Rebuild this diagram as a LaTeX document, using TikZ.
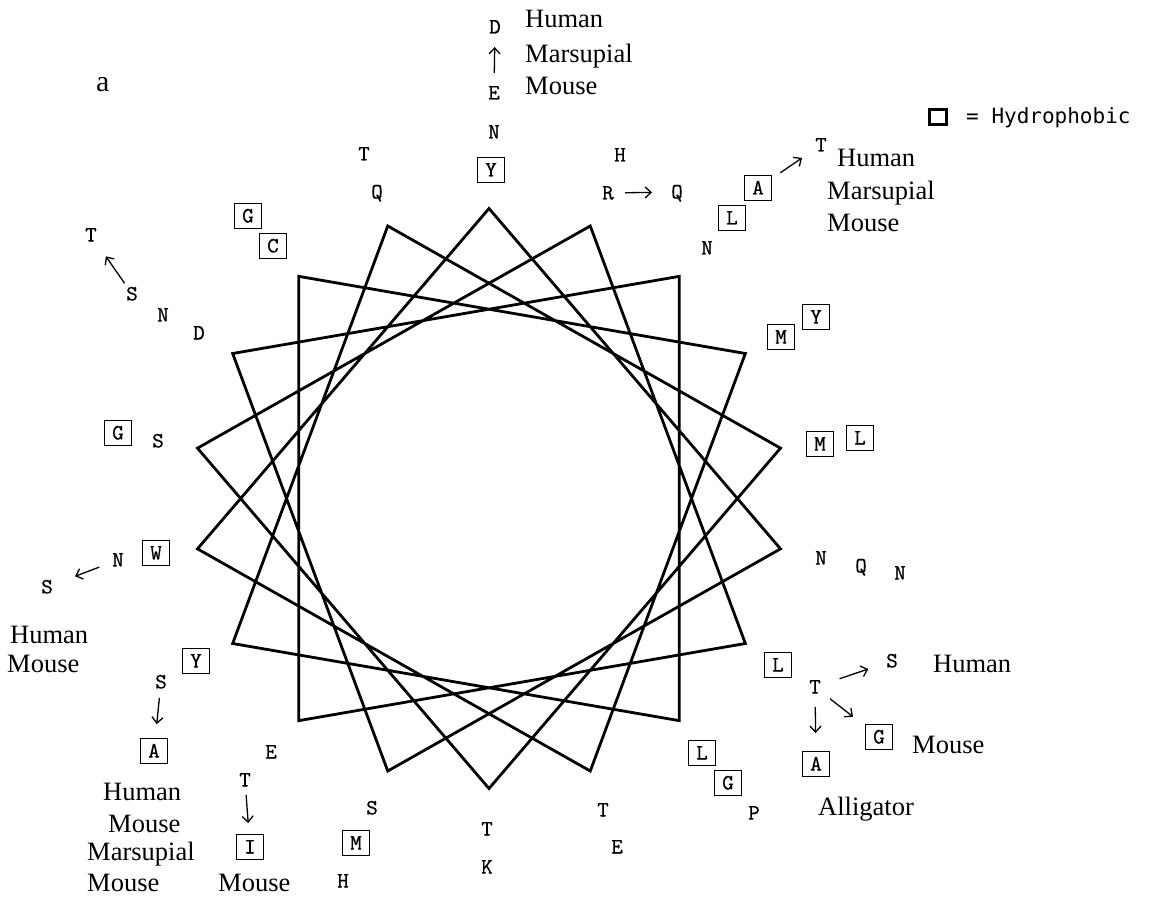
\documentclass[tikz,border=0pt]{standalone}
\usepackage{fontspec}
\setmainfont{Liberation Serif}
\newfontfamily\legendfont{DejaVu Sans Mono}
\newfontfamily\resfont{lmmono10-regular.otf}[FakeBold=0.5]
\usetikzlibrary{arrows.meta}
\begin{document}
\begin{tikzpicture}[x=1pt,y=-1pt,
  res/.style={font=\resfont\fontsize{22}{22}\selectfont, inner sep=0pt, text height=13pt, text depth=0pt, anchor=center},
  hyd/.style={res, draw, line width=1.8pt, minimum width=27pt, minimum height=25pt},
  spec/.style={font=\fontsize{26.5}{26.5}\selectfont, inner sep=0pt, anchor=base west},
  arr/.style={-{Straight Barb[length=6pt,width=11pt]}, line width=1.3pt},
  wheel/.style={line width=2.8pt, line join=miter}]
\useasboundingbox (0,0) rectangle (1155,901);
% helical wheel
\foreach \k in {0,...,17} {
  \coordinate (v\k) at ({489+296*cos(90+100*\k)}, {498.5-290*sin(90+100*\k)});
}
\draw[wheel] (v0) \foreach \k in {1,...,17} {-- (v\k)} -- cycle;
% label a
\node[font=\fontsize{30}{30}\selectfont, inner sep=0pt, anchor=base west] (lbla) at (96,92) {a};
% legend
\node[draw, line width=3.2pt, minimum width=17pt, minimum height=15pt, inner sep=0pt] (lgbox) at (938,117) {};
\node[font=\legendfont\fontsize{21}{21}\selectfont, inner sep=0pt, anchor=west] (lgtext) at (966,118) {= Hydrophobic};
% top
\node[res] (d1) at (495,27) {D};
\node[res] (e1) at (494,93) {E};
\node[res] (n1) at (494,132) {N};
\node[hyd] (y1) at (491,170) {Y};
\node[spec] (sp1a) at (525,28) {Human};
\node[spec] (sp1b) at (525,63) {Marsupial};
\node[spec] (sp1c) at (525,95) {Mouse};
\draw[arr, shorten <=20pt, shorten >=20pt] (e1.center) -- (d1.center);
% upper left
\node[res] (t2) at (364,154) {T};
\node[res] (q2) at (377,192) {Q};
\node[hyd] (g3) at (248,216) {G};
\node[hyd] (c3) at (273,246) {C};
\node[res] (t4) at (91,235) {T};
\node[res] (s4) at (132,294) {S};
\node[res] (n4) at (163,315) {N};
\node[res] (d4) at (199,333) {D};
\draw[arr, shorten <=13pt, shorten >=26pt] (s4.center) -- (t4.center);
\node[hyd] (g5) at (118,433) {G};
\node[res] (s5) at (158,441) {S};
\node[hyd] (w6) at (156,553) {W};
\node[res] (n6) at (118,560) {N};
\node[res] (s6) at (47,587) {S};
\draw[arr, shorten <=20pt, shorten >=30pt] (n6.center) -- (s6.center);
\node[spec] (sp6a) at (10,643) {Human};
\node[spec] (sp6b) at (7,672) {Mouse};
% lower left
\node[hyd] (y7) at (196,661) {Y};
\node[res] (s8) at (161,682) {S};
\node[hyd] (a8) at (154,751) {A};
\draw[arr, shorten <=16pt, shorten >=27pt] (s8.center) -- (a8.center);
\node[spec] (sp8a) at (103,800) {Human};
\node[spec] (sp8b) at (108,832) {Mouse};
\node[spec] (sp8c) at (87,860) {Marsupial};
\node[spec] (sp8d) at (87,891) {Mouse};
\node[res] (e9) at (271,752) {E};
\node[res] (t10) at (245,780) {T};
\node[hyd] (i10) at (250,847) {I};
\draw[arr, shorten <=15pt, shorten >=24pt] (t10.center) -- (i10.center);
\node[spec] (sp10) at (218,891) {Mouse};
\node[res] (s11) at (372,808) {S};
\node[hyd] (m11) at (356,843) {M};
\node[res] (h11) at (343,881) {H};
% bottom
\node[res] (t12) at (487,829) {T};
\node[res] (k12) at (487,867) {K};
\node[res] (t13) at (603,810) {T};
\node[res] (e13) at (617,847) {E};
\node[hyd] (l14) at (702,753) {L};
\node[hyd] (g14) at (728,783) {G};
\node[res] (p14) at (754,813) {P};
% lower right
\node[hyd] (l15) at (778,665) {L};
\node[res] (t15) at (815,687) {T};
\node[res] (s15) at (892,661) {S};
\node[hyd] (g15) at (879,737) {G};
\node[hyd] (a15) at (816,764) {A};
\draw[arr, shorten <=26pt, shorten >=25pt] (t15.center) -- (s15.center);
\draw[arr, shorten <=19pt, shorten >=33pt] (t15.center) -- (g15.center);
\draw[arr, shorten <=20pt, shorten >=31pt] (t15.center) -- (a15.center);
\node[spec] (sp15a) at (933,672) {Human};
\node[spec] (sp15b) at (912,753) {Mouse};
\node[spec] (sp15c) at (818,815) {Alligator};
% right
\node[res] (n16) at (821,558) {N};
\node[res] (q16) at (861,566) {Q};
\node[res] (n16b) at (900,573) {N};
\node[hyd] (m17) at (820,444) {M};
\node[hyd] (l17) at (860,438) {L};
\node[hyd] (m18) at (781,337) {M};
\node[hyd] (y18) at (816,317) {Y};
% upper right
\node[res] (n19) at (707,248) {N};
\node[hyd] (l19) at (732,218) {L};
\node[hyd] (a19) at (758,188) {A};
\node[res] (t19) at (821,145) {T};
\draw[arr, shorten <=27pt, shorten >=23pt] (a19.center) -- (t19.center);
\node[spec] (sp19a) at (837,167) {Human};
\node[spec] (sp19b) at (827,200) {Marsupial};
\node[spec] (sp19c) at (827,232) {Mouse};
\node[res] (h20) at (620,155) {H};
\node[res] (r20) at (608,193) {R};
\node[res] (q20) at (677,192) {Q};
\draw[arr, shorten <=17pt, shorten >=25pt] (r20.center) -- (q20.center);
\end{tikzpicture}
\end{document}
